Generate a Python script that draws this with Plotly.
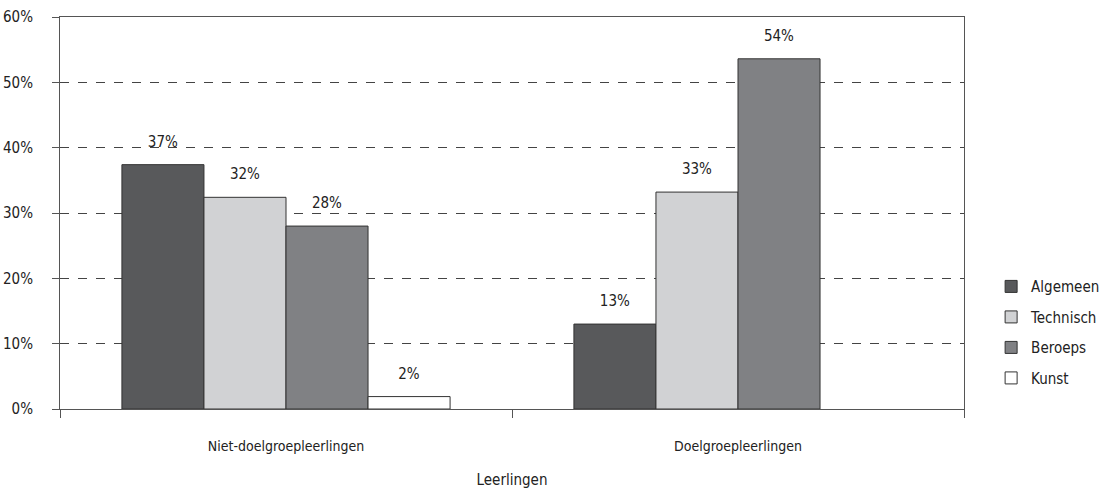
import plotly.graph_objects as go

categories = ["Niet-doelgroepleerlingen", "Doelgroepleerlingen"]
series_names = ["Algemeen", "Technisch", "Beroeps", "Kunst"]
algemeen = [37.4, 13.0]
technisch = [32.4, 33.2]
beroeps = [28.0, 53.6]
kunst = [1.9, None]
series_values = [algemeen, technisch, beroeps, kunst]
colors = ["#58595b", "#d1d2d4", "#808184", "#ffffff"]
y_ticks = [0, 10, 20, 30, 40, 50, 60]
y_tick_labels = [f"{v}%" for v in y_ticks]

FONT = "DejaVu Sans Condensed, Liberation Sans Narrow, sans-serif"

fig = go.Figure()
for name, vals, col in zip(series_names, series_values, colors):
    texts = [("" if v is None else f"<span style='font-size:15px'>{round(v):d}%</span><br> ") for v in vals]
    fig.add_trace(go.Bar(
        name=name, x=categories, y=vals,
        marker=dict(color=col, line=dict(color="#333333", width=1)),
        text=texts, textposition="outside", cliponaxis=False,
        constraintext="none",
        textfont=dict(family=FONT, size=10, color="#222222"),
        legendgroup=name,
        hoverinfo="skip",
    ))

fig.update_layout(
    width=1119, height=489,
    margin=dict(l=60, r=155, t=17, b=80, autoexpand=False),
    paper_bgcolor="white", plot_bgcolor="white",
    barmode="group", bargap=0.274, bargroupgap=0,
    font=dict(family=FONT, size=15, color="#222222"),
    showlegend=True,
    legend=dict(x=1.030, xanchor="left", y=0.196, yanchor="middle",
                traceorder="grouped", tracegroupgap=8,
                font=dict(family=FONT, size=15, color="#222222"),
                bgcolor="rgba(0,0,0,0)"),
)
fig.update_xaxes(
    automargin=False,
    showline=True, linecolor="#555555", linewidth=1, mirror=True,
    ticks="outside", tickson="boundaries", ticklen=8, tickcolor="#555555",
    showgrid=False,
    ticklabelstandoff=24,
    title=dict(text="Leerlingen", standoff=32, font=dict(family=FONT, size=15)),
    tickfont=dict(family=FONT, size=14),
)
fig.update_yaxes(
    automargin=False,
    range=[0, 60], tickmode="array", tickvals=y_ticks, ticktext=y_tick_labels,
    showline=True, linecolor="#555555", linewidth=1, mirror=True,
    ticks="outside", ticklen=7, tickcolor="#555555",
    showgrid=True, gridcolor="#444444", gridwidth=1, griddash="dash",
    zeroline=False,
    ticklabelstandoff=16,
    tickfont=dict(family=FONT, size=15),
)

fig.write_html("out.html", config={"displayModeBar": False},
               post_script="document.body.style.margin='0';")
